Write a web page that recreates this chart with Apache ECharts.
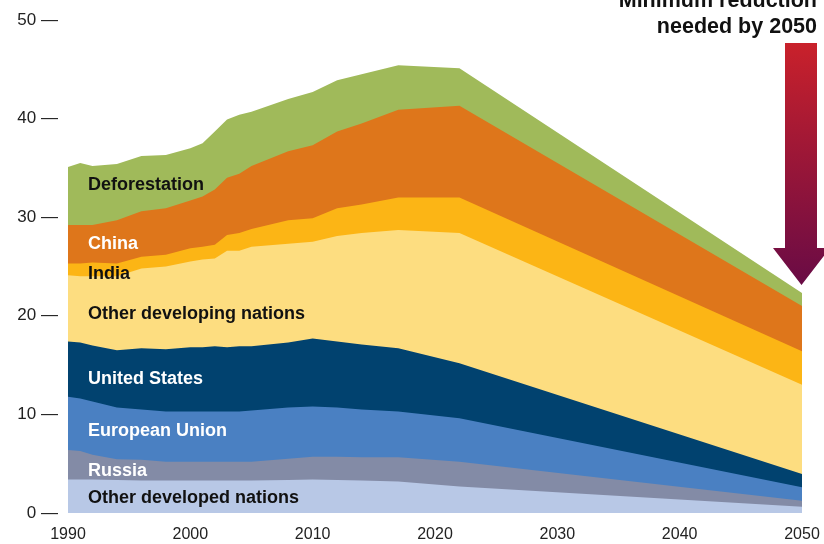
<!DOCTYPE html>
<html>
<head>
<meta charset="utf-8">
<script src="https://cdn.jsdelivr.net/npm/echarts@6/dist/echarts.min.js"></script>
<style>
html,body{margin:0;padding:0;background:#fff;}
#chart{width:824px;height:544px;}
</style>
</head>
<body>
<div id="chart"></div>
<script>
// Years
var years = [1990,1991,1992,1994,1996,1998,2000,2001,2002,2003,2004,2005,2008,2010,2012,2014,2017,2022,2050];

// Series values (Gt CO2e, per layer, not cumulative)
var otherDeveloped = [3.4,3.4,3.4,3.35,3.3,3.3,3.3,3.3,3.3,3.3,3.3,3.3,3.35,3.4,3.35,3.3,3.2,2.7,0.64];
var russia         = [3.0,2.9,2.5,2.1,2.1,1.9,1.9,1.9,1.9,1.9,1.9,1.9,2.15,2.3,2.35,2.35,2.45,2.5,0.61];
var europeanUnion  = [5.4,5.3,5.4,5.25,5.1,5.1,5.1,5.1,5.1,5.1,5.1,5.2,5.2,5.1,5.0,4.85,4.65,4.4,1.35];
var unitedStates   = [5.6,5.7,5.7,5.8,6.2,6.3,6.5,6.5,6.6,6.5,6.6,6.5,6.6,6.9,6.7,6.6,6.4,5.6,1.36];
var otherDeveloping= [6.7,6.7,7.0,7.5,8.1,8.4,8.7,8.9,8.9,9.8,9.7,10.1,10.0,9.8,10.7,11.3,12.0,13.2,9.04];
var india          = [1.2,1.3,1.4,1.3,1.2,1.2,1.35,1.3,1.4,1.6,1.8,1.8,2.4,2.4,2.8,2.9,3.3,3.6,3.4];
var china          = [3.9,3.9,3.8,4.4,4.6,4.7,4.85,5.1,5.6,5.8,6.0,6.4,7.0,7.4,7.8,8.2,8.9,9.3,4.6];
var deforestation  = [5.9,6.3,6.0,5.7,5.6,5.4,5.3,5.4,5.9,5.9,6.0,5.5,5.3,5.4,5.2,5.0,4.5,3.8,1.3];

var xTicks = [1990,2000,2010,2020,2030,2040,2050];
var yTicks = [0,10,20,30,40,50];

var layerNames = ['Other developed nations','Russia','European Union','United States','Other developing nations','India','China','Deforestation'];
var layerValues = [otherDeveloped,russia,europeanUnion,unitedStates,otherDeveloping,india,china,deforestation];
var layerColors = ['#b8c8e6','#838ba6','#4a80c2','#01426f','#fddd80','#fcb515','#de761b','#a0ba5a'];
var labelColors = ['#111','#fff','#fff','#fff','#111','#111','#fff','#111'];
var labelY = [497,470,430,378,313,273,243,184];

var FONT = '"Liberation Sans", Arial, Helvetica, sans-serif';

// cumulative totals (stacking), each layer drawn from 0 to its cumulative top;
// lower layers are drawn later so they cover the upper ones.
var cumulative = [];
layerValues.forEach(function(vals, i){
  cumulative.push(vals.map(function(v, j){ return i === 0 ? v : cumulative[i-1][j] + v; }));
});

var series = [];
for (var i = layerNames.length - 1; i >= 0; i--) {
  (function(i){
    series.push({
      name: layerNames[i],
      type: 'line',
      symbol: 'none',
      silent: true,
      z: 2 + (layerNames.length - i),
      lineStyle: {width: 0},
      areaStyle: {color: layerColors[i], opacity: 1},
      data: years.map(function(y, j){ return [y, +cumulative[i][j].toFixed(3)]; })
    });
  })(i);
}

var graphics = layerNames.map(function(name, i){
  return {
    type: 'text', left: 88, top: labelY[i] - 8, z: 100,
    style: {text: name, fill: labelColors[i], font: 'bold 18px ' + FONT}
  };
});
graphics.push({
  type: 'text', right: 7, top: -10, z: 100,
  style: {text: 'Minimum reduction', fill: '#111', font: 'bold 21.5px ' + FONT, textAlign: 'right'}
});
graphics.push({
  type: 'text', right: 7, top: 16, z: 100,
  style: {text: 'needed by 2050', fill: '#111', font: 'bold 21.5px ' + FONT, textAlign: 'right'}
});
graphics.push({
  type: 'polygon', z: 100,
  shape: {points: [[785,43],[817,43],[817,248],[830,248],[801.5,285],[773,248],[785,248]]},
  style: {
    fill: new echarts.graphic.LinearGradient(0,0,0,1,[
      {offset:0,color:'#c9212b'},
      {offset:1,color:'#690b45'}
    ])
  }
});

var chart = echarts.init(document.getElementById('chart'), null, {renderer:'canvas'});
chart.setOption({
  animation: false,
  backgroundColor: '#fff',
  grid: {left: 68, right: 22, top: 20, bottom: 31, containLabel: false},
  xAxis: {
    type: 'value', min: xTicks[0], max: xTicks[xTicks.length-1], interval: 10,
    axisLine: {show: false}, axisTick: {show: false}, splitLine: {show: false},
    axisLabel: {color: '#222', fontSize: 16, fontFamily: FONT, margin: 14,
      formatter: function(v){ return xTicks.indexOf(v) >= 0 ? String(v) : ''; }}
  },
  yAxis: {
    type: 'value', min: yTicks[0], max: yTicks[yTicks.length-1], interval: 10,
    axisLine: {show: false}, axisTick: {show: false}, splitLine: {show: false},
    axisLabel: {color: '#222', fontSize: 17, fontFamily: FONT, margin: 10,
      formatter: function(v){ return v + ' \u2014'; }}
  },
  series: series,
  graphic: graphics
});
</script>
</body>
</html>
